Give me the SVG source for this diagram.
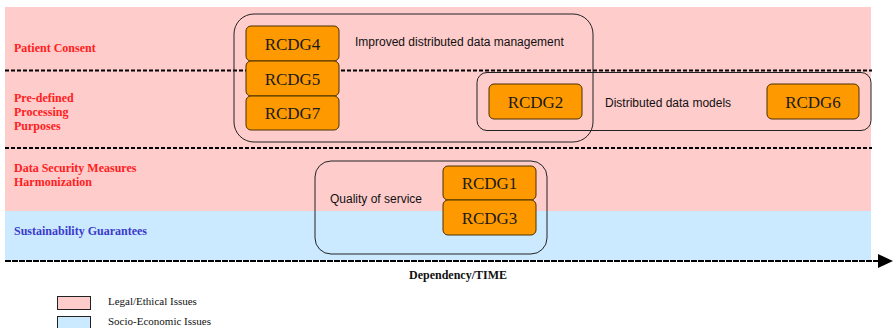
<svg xmlns="http://www.w3.org/2000/svg" width="893" height="328" viewBox="0 0 893 328">
<style>
.lbl{font-family:"Liberation Serif","Times New Roman",serif;font-weight:bold;font-size:12px;fill:#ff2020}
.lblb{font-family:"Liberation Serif","Times New Roman",serif;font-weight:bold;font-size:12px;fill:#3b3bcc}
.node rect{fill:#ff9900;stroke:#4a3000;stroke-width:1}
.node text{font-family:"Liberation Serif","Times New Roman",serif;font-size:17px;fill:#1a1a1a;text-anchor:middle}
.grp{fill:none;stroke:#222;stroke-width:1}
.gtxt{font-family:"Liberation Sans",Arial,sans-serif;font-size:12px;fill:#111}
.dash{stroke:#000;stroke-width:2;stroke-dasharray:4,2;fill:none}
.leg{font-family:"Liberation Serif","Times New Roman",serif;font-size:11px;fill:#111}
</style>
<defs>
<marker id="arr" markerWidth="15" markerHeight="14" refX="0" refY="7" orient="auto" markerUnits="userSpaceOnUse"><path d="M0,0 L15,7 L0,14 z" fill="#000"/></marker>
</defs>
<g id="bands">
<rect x="5" y="7" width="866" height="204" fill="#ffcccc"/>
<rect x="5" y="211" width="866" height="49" fill="#cceaff"/>
</g>
<g id="lines">
<line class="dash" x1="5" y1="70.5" x2="872" y2="70.5"/>
<line class="dash" x1="5" y1="148" x2="872" y2="148"/>
</g>
<g id="rowlabels">
<text class="lbl" x="14" y="52">Patient Consent</text>
<text class="lbl" x="14" y="102">Pre-defined</text>
<text class="lbl" x="14" y="116">Processing</text>
<text class="lbl" x="14" y="130">Purposes</text>
<text class="lbl" x="14" y="172">Data Security Measures</text>
<text class="lbl" x="14" y="186">Harmonization</text>
<text class="lblb" x="14" y="235">Sustainability Guarantees</text>
</g>
<g id="group-management">
<rect class="grp" x="234" y="14" width="359" height="128" rx="20" ry="20"/>
<text class="gtxt" x="355" y="46">Improved distributed data management</text>
</g>
<g id="group-models">
<rect class="grp" x="477" y="72.5" width="394" height="58" rx="10" ry="10"/>
<text class="gtxt" x="605" y="107">Distributed data models</text>
</g>
<g id="group-qos">
<rect class="grp" x="315" y="161" width="232" height="93" rx="16" ry="16"/>
<text class="gtxt" x="330" y="203">Quality of service</text>
</g>
<g id="RCDG4" class="node"><rect x="246" y="26" width="93" height="35" rx="5"/><text x="292.5" y="50">RCDG4</text></g>
<g id="RCDG5" class="node"><rect x="246" y="61" width="93" height="35" rx="5"/><text x="292.5" y="84.5">RCDG5</text></g>
<g id="RCDG7" class="node"><rect x="246" y="96" width="93" height="34" rx="5"/><text x="292.5" y="119">RCDG7</text></g>
<g id="RCDG2" class="node"><rect x="489" y="84" width="93" height="35" rx="5"/><text x="535.5" y="107.5">RCDG2</text></g>
<g id="RCDG6" class="node"><rect x="767" y="84" width="92" height="35" rx="5"/><text x="813" y="107.5">RCDG6</text></g>
<g id="RCDG1" class="node"><rect x="443" y="166" width="93" height="34" rx="5"/><text x="489.5" y="189">RCDG1</text></g>
<g id="RCDG3" class="node"><rect x="443" y="200" width="93" height="35" rx="5"/><text x="489.5" y="224">RCDG3</text></g>
<g id="connectors">
<line x1="5" y1="261" x2="878" y2="261" stroke="#000" stroke-width="2" stroke-dasharray="6,1" marker-end="url(#arr)"/>
</g>
<g id="axislabel">
<text x="458" y="279" text-anchor="middle" font-family="Liberation Serif,Times New Roman,serif" font-weight="bold" font-size="12" fill="#111">Dependency/TIME</text>
</g>
<g id="legend">
<rect x="57.5" y="296.5" width="33" height="13" fill="#ffcccc" stroke="#222" stroke-width="1"/>
<text class="leg" x="108" y="305">Legal/Ethical Issues</text>
<rect x="57.5" y="316.5" width="33" height="13" fill="#cceaff" stroke="#222" stroke-width="1"/>
<text class="leg" x="108" y="325">Socio-Economic Issues</text>
</g>
</svg>
